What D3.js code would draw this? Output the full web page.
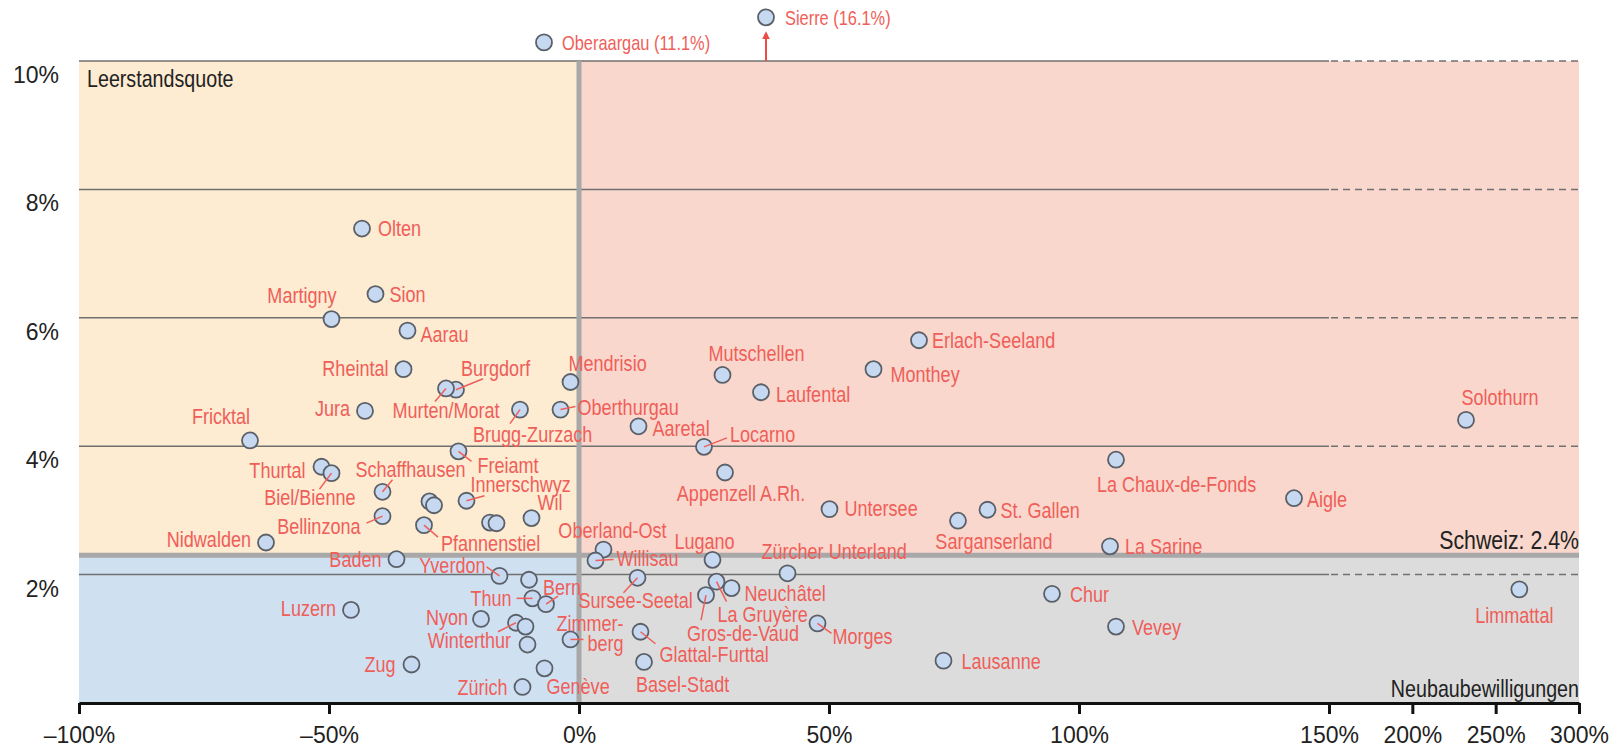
<!DOCTYPE html>
<html lang="de">
<head>
    <meta charset="UTF-8">
    <title>Leerstandsquote und Neubaubewilligungen</title>
    <script src="https://d3js.org/d3.v7.min.js"></script>
    <style>
        body { margin: 0; background: #fff; }
        .pt circle { fill: #c6d9f1; stroke: #5b6068; stroke-width: 1.8px; }
        .pt text { font: 22px 'Liberation Sans', Arial, sans-serif; fill: #ef5e59; }
        .leader { stroke: #ef5e59; stroke-width: 1.5px; fill: none; }
        .grid { stroke: #707070; stroke-width: 1.5px; }
        .dark { font-family: 'Liberation Sans', Arial, sans-serif; fill: #222; }
        .tick-label { font: 23px 'Liberation Sans', Arial, sans-serif; fill: #222; }
    </style>
</head>
<body>
<script>
    // Regions (MS-Regionen), change in building permits (%) and vacancy rate (%)
    var regions = [
        "Oberaargau", "Sierre", "Olten", "Martigny", "Sion", "Aarau", "Rheintal", "Burgdorf",
        "Murten/Morat", "Jura", "Brugg-Zurzach", "Mendrisio", "Oberthurgau", "Fricktal", "Freiamt",
        "Thurtal", "Biel/Bienne", "Schaffhausen", "", "", "Innerschwyz", "Bellinzona", "Pfannenstiel",
        "", "", "Wil", "Nidwalden", "Baden", "Yverdon", "", "Thun", "Bern", "Luzern", "Nyon",
        "Winterthur", "", "", "Zimmerberg", "Zug", "Genève", "Zürich", "Oberland-Ost", "Willisau",
        "Sursee-Seetal", "Lugano", "La Gruyère", "Neuchâtel", "Gros-de-Vaud", "Zürcher Unterland",
        "Glattal-Furttal", "Basel-Stadt", "Morges", "Lausanne", "Aaretal", "Locarno", "Mutschellen",
        "Laufental", "Monthey", "Erlach-Seeland", "Appenzell A.Rh.", "Untersee", "Sarganserland",
        "St. Gallen", "La Chaux-de-Fonds", "Aigle", "Solothurn", "La Sarine", "Chur", "Vevey", "Limmattal"
    ];
    var permitChange = [
        -7.0, 37.4, -43.4, -49.5, -40.7, -34.3, -35.1, -24.6,
        -26.6, -42.8, -11.8, -1.7, -3.7, -65.8, -24.1,
        -51.5, -49.5, -39.3, -29.9, -29.0, -22.5, -39.3, -31.0,
        -17.8, -16.5, -9.5, -62.6, -36.5, -15.9, -10.0, -9.3, -6.6, -45.6, -19.6,
        -12.6, -10.7, -10.3, -1.7, -33.5, -6.9, -11.3, 4.9, 3.3,
        11.7, 26.7, 27.5, 30.5, 25.4, 41.7,
        12.3, 13.0, 47.7, 72.9, 11.9, 25.0, 28.7,
        36.4, 58.9, 68.0, 29.2, 50.1, 75.8,
        81.7, 107.4, 143.0, 232.2, 106.2, 94.6, 107.4, 264.2
    ];
    var vacancyRate = [
        11.1, 16.1, 7.39, 5.98, 6.37, 5.80, 5.20, 4.88,
        4.90, 4.55, 4.57, 5.00, 4.57, 4.09, 3.92,
        3.68, 3.58, 3.29, 3.14, 3.08, 3.15, 2.91, 2.77,
        2.81, 2.80, 2.88, 2.50, 2.24, 1.98, 1.92, 1.63, 1.54, 1.45, 1.31,
        1.25, 1.19, 0.91, 0.99, 0.60, 0.54, 0.25, 2.39, 2.22,
        1.95, 2.23, 1.89, 1.79, 1.68, 2.02,
        1.11, 0.64, 1.24, 0.66, 4.31, 3.99, 5.11,
        4.84, 5.20, 5.65, 3.59, 3.02, 2.84,
        3.01, 3.79, 3.19, 4.41, 2.44, 1.70, 1.19, 1.77
    ];

    // Values above the top of the scale are drawn just above the frame
    var overflowShownAt = { "Oberaargau": 10.29, "Sierre": 10.68 };

    var swissRateText = "Schweiz: 2.4%";
    var swissLineAt = 2.3;

    var xTicks = [-100, -50, 0, 50, 100, 150, 200, 250, 300];
    var yTicks = [2, 4, 6, 8, 10];

    // label placement: [dx, dy, anchor, leaderDx, leaderDy]
    var labelLayout = {
        "Oberaargau": [18, 0, "start"], "Sierre": [19, 0, "start"],
        "Olten": [16, 0, "start"], "Martigny": [5, -24, "end"], "Sion": [14, 0, "start"],
        "Aarau": [13, 3, "start"], "Rheintal": [-15, -1, "end"],
        "Burgdorf": [5, -22, "start", 27, -11], "Murten/Morat": [0, 22, "middle", -11, 13],
        "Jura": [-15, -3, "end"], "Brugg-Zurzach": [-47, 24, "start", -10, 14],
        "Mendrisio": [-2, -19, "start"], "Oberthurgau": [17, -3, "start", 15, -3],
        "Fricktal": [0, -24, "end"], "Freiamt": [19, 14, "start", 13, 10],
        "Thurtal": [-16, 3, "end"], "Biel/Bienne": [24, 24, "end", -12, 16],
        "Schaffhausen": [28, -23, "middle", 10, -12], "Innerschwyz": [4, -17, "start", 18, -5],
        "Bellinzona": [-22, 10, "end", -16, 7], "Pfannenstiel": [17, 18, "start", 14, 12],
        "Wil": [6, -16, "start"], "Nidwalden": [-15, -3, "end"], "Baden": [-15, 0, "end"],
        "Yverdon": [-14, -11, "end", -13, -9], "Thun": [-21, 0, "end", -16, 0],
        "Bern": [-3, -17, "start", 12, -8], "Luzern": [-15, -2, "end"], "Nyon": [-13, -2, "end"],
        "Winterthur": [-5, 17, "end", -18, 9], "Zimmerberg": [53, -16, "end", 13, 0],
        "Zug": [-16, 0, "end"], "Genève": [2, 18, "start"], "Zürich": [-15, 0, "end"],
        "Oberland-Ost": [9, -19, "middle"], "Willisau": [21, -2, "start", 18, -1],
        "Sursee-Seetal": [-59, 22, "start", -14, 15], "Lugano": [-8, -19, "middle"],
        "La Gruyère": [1, 32, "start", 10, 20], "Neuchâtel": [13, 5, "start"],
        "Gros-de-Vaud": [-19, 38, "start", -5, 25], "Zürcher Unterland": [-26, -22, "start"],
        "Glattal-Furttal": [19, 22, "start", 15, 12], "Basel-Stadt": [-8, 22, "start"],
        "Morges": [15, 13, "start", 14, 10], "Lausanne": [18, 0, "start"],
        "Aaretal": [14, 2, "start"], "Locarno": [26, -13, "start", 23, -9],
        "Mutschellen": [34, -22, "middle"], "Laufental": [15, 2, "start"],
        "Monthey": [17, 5, "start"], "Erlach-Seeland": [13, 0, "start"],
        "Appenzell A.Rh.": [16, 21, "middle"], "Untersee": [15, -1, "start"],
        "Sarganserland": [36, 20, "middle"], "St. Gallen": [13, 0, "start"],
        "La Chaux-de-Fonds": [-19, 24, "start"], "Aigle": [13, 1, "start"],
        "Solothurn": [34, -23, "middle"], "La Sarine": [15, 0, "start"],
        "Chur": [18, 0, "start"], "Vevey": [16, 0, "start"], "Limmattal": [-5, 26, "middle"]
    };

    var width = 1613, height = 748;
    var narrow = 0.82;   // horizontal squeeze to imitate a condensed face

    var svg = d3.select("body").append("svg")
        .attr("width", width)
        .attr("height", height);

    // x axis is linear up to 150%, then compressed up to 300%
    var x = d3.scaleLinear().domain([-100, 150, 300]).range([79, 1329, 1579]);
    var y = d3.scaleLinear().domain([0, 10]).range([703, 61]);

    var x0 = x(-100), x1 = x(300), xBreak = x(150);

    // condensed text: a group that is squeezed horizontally
    function narrowText(parent, px, py, anchor) {
        return parent.append("g")
            .attr("transform", "translate(" + px + "," + py + ") scale(" + narrow + ",1)")
            .append("text")
            .attr("text-anchor", anchor || "start");
    }

    // quadrant backgrounds
    var quads = [
        {x: x(-100), y: y(10), w: x(0) - x(-100), h: y(swissLineAt) - y(10), c: "#fdebd2"},
        {x: x(0), y: y(10), w: x(300) - x(0), h: y(swissLineAt) - y(10), c: "#fad7cc"},
        {x: x(-100), y: y(swissLineAt), w: x(0) - x(-100), h: y(0) - y(swissLineAt), c: "#cfe0f1"},
        {x: x(0), y: y(swissLineAt), w: x(300) - x(0), h: y(0) - y(swissLineAt), c: "#dcdcdc"}
    ];
    svg.selectAll(".quad")
        .data(quads)
        .enter().append("rect")
        .attr("x", function(d) { return d.x; })
        .attr("y", function(d) { return d.y; })
        .attr("width", function(d) { return d.w; })
        .attr("height", function(d) { return d.h; })
        .attr("fill", function(d) { return d.c; });

    // gridlines: solid in the linear part, dashed in the compressed part
    svg.selectAll(".grid-solid")
        .data(yTicks)
        .enter().append("line")
        .attr("class", "grid")
        .attr("x1", x0).attr("x2", xBreak)
        .attr("y1", function(d) { return y(d); })
        .attr("y2", function(d) { return y(d); });

    svg.selectAll(".grid-dash")
        .data(yTicks)
        .enter().append("line")
        .attr("class", "grid")
        .attr("stroke-dasharray", "7,5")
        .attr("x1", xBreak + 2).attr("x2", x1)
        .attr("y1", function(d) { return y(d); })
        .attr("y2", function(d) { return y(d); });

    // Swiss average line and zero line
    svg.append("line")
        .attr("x1", x0).attr("x2", x1)
        .attr("y1", y(swissLineAt)).attr("y2", y(swissLineAt))
        .attr("stroke", "#a8a8a8").attr("stroke-width", 5);

    svg.append("line")
        .attr("x1", x(0)).attr("x2", x(0))
        .attr("y1", y(10)).attr("y2", y(0))
        .attr("stroke", "#a8a8a8").attr("stroke-width", 5);

    // y tick labels sit just below their gridline
    svg.selectAll(".ylab")
        .data(yTicks)
        .enter().append("text")
        .attr("class", "tick-label")
        .attr("x", 59)
        .attr("y", function(d) { return y(d) + 22; })
        .attr("text-anchor", "end")
        .text(function(d) { return d + "%"; });

    // x axis
    var xAxis = d3.axisBottom(x)
        .tickValues(xTicks)
        .tickSize(11)
        .tickSizeOuter(0)
        .tickFormat(function(d) { return (d < 0 ? "\u2013" + Math.abs(d) : d) + "%"; });

    var gx = svg.append("g")
        .attr("transform", "translate(0," + y(0) + ")")
        .call(xAxis);
    gx.select(".domain").attr("stroke", "#111").attr("stroke-width", 3);
    gx.selectAll(".tick line").attr("stroke", "#111").attr("stroke-width", 3);
    gx.selectAll(".tick text")
        .attr("class", "tick-label")
        .attr("y", 40)
        .attr("dy", 0);

    // axis titles
    narrowText(svg, 87, 87).attr("class", "dark")
        .style("font-size", "24px")
        .text("Leerstandsquote");

    narrowText(svg, x1, 697, "end").attr("class", "dark")
        .style("font-size", "24px")
        .text("Neubaubewilligungen");

    narrowText(svg, x1, y(swissLineAt) - 6, "end").attr("class", "dark")
        .style("font-size", "26px")
        .text(swissRateText);

    // points
    var points = regions.map(function(name, i) {
        return {name: name, px: permitChange[i], v: vacancyRate[i]};
    });

    function yPos(d) {
        return d.v > 10 ? y(overflowShownAt[d.name]) : y(d.v);
    }

    // arrow for the value that is far off the scale
    svg.append("defs").append("marker")
        .attr("id", "arrowhead")
        .attr("viewBox", "0 0 10 10")
        .attr("refX", 5).attr("refY", 5)
        .attr("markerWidth", 4).attr("markerHeight", 4)
        .attr("orient", "auto")
        .append("path")
        .attr("d", "M0,0 L10,5 L0,10 Z")
        .attr("fill", "#ee4b45");

    points.filter(function(d) { return d.name === "Sierre"; }).forEach(function(d) {
        svg.append("line")
            .attr("x1", x(d.px)).attr("x2", x(d.px))
            .attr("y1", y(10)).attr("y2", yPos(d) + 18)
            .attr("stroke", "#ee4b45").attr("stroke-width", 2)
            .attr("marker-end", "url(#arrowhead)");
    });

    var node = svg.selectAll(".pt")
        .data(points)
        .enter().append("g")
        .attr("class", "pt")
        .attr("transform", function(d) { return "translate(" + x(d.px) + "," + yPos(d) + ")"; });

    node.append("circle").attr("r", 8);

    // leader lines
    node.filter(function(d) { return labelLayout[d.name] && labelLayout[d.name].length > 3; })
        .append("line")
        .attr("class", "leader")
        .attr("x1", 0).attr("y1", 0)
        .attr("x2", function(d) { return labelLayout[d.name][3]; })
        .attr("y2", function(d) { return labelLayout[d.name][4]; });

    // labels
    node.filter(function(d) { return labelLayout[d.name]; })
        .each(function(d) {
            var l = labelLayout[d.name];
            var t = narrowText(d3.select(this), l[0], l[1], l[2])
                .attr("dy", "0.36em");
            if (d.v > 10) {
                t.style("font-size", "20px").text(d.name + " (" + d.v + "%)");
            } else if (d.name === "Zimmerberg") {
                t.append("tspan").attr("x", 0).text("Zimmer-");
                t.append("tspan").attr("x", 0).attr("dy", "0.88em").text("berg");
            } else {
                t.text(d.name);
            }
        });
</script>
</body>
</html>
